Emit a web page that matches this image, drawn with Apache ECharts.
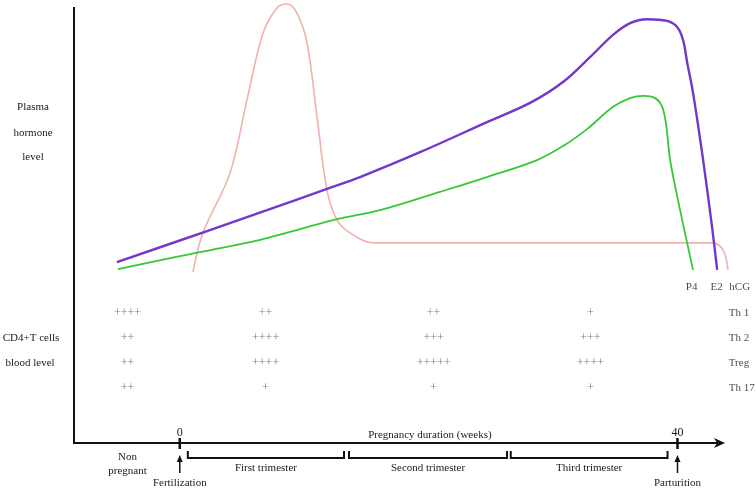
<!DOCTYPE html>
<html>
<head>
<meta charset="utf-8">
<script src="https://cdn.jsdelivr.net/npm/echarts@6/dist/echarts.min.js"></script>
<style>
  html, body { margin: 0; padding: 0; background: #fff; }
  #chart { width: 756px; height: 490px; }
</style>
</head>
<body>
<div id="chart"></div>
<script>
// hormone curves as [week, relative level]
const hcg = [[1.06, 39.2], [1.86, 48.2], [4.04, 61.9], [5.4, 78.7], [6.69, 94.0], [7.81, 99.8], [8.62, 100.7],
  [9.42, 98.6], [10.23, 91.7], [11.03, 74.8], [11.83, 58.0], [12.64, 51.1], [13.68, 48.2], [15.53, 45.9],
  [20.91, 45.9], [30, 45.9], [42.78, 45.9], [43.66, 44.3], [44.06, 39.7]];
const e2 = [[-5.05, 41.5], [2.19, 48.6], [7.01, 53.4], [11.83, 58.3], [14.49, 61.0], [19.31, 66.7], [24.69, 73.6],
  [28.15, 78.0], [30.8, 82.8], [32.97, 88.5], [34.82, 93.6], [36.19, 96.3], [37.56, 97.2], [39.16, 96.8],
  [39.97, 95.4], [40.45, 92.4], [40.77, 87.4], [41.25, 80.3], [42.06, 64.9], [42.78, 49.5], [43.19, 39.7]];
const p4 = [[-4.97, 39.9], [1.62, 43.8], [6.45, 46.6], [12.72, 51.4], [16.09, 53.4], [20.91, 57.6], [24.69, 61.0],
  [28.71, 64.9], [30.8, 68.1], [32.73, 72.0], [34.82, 77.1], [36.19, 79.1], [37.24, 79.6], [38.2, 79.1],
  [38.77, 77.1], [39.09, 72.9], [39.41, 64.9], [40.21, 53.4], [41.25, 39.7]];
const hormoneNames = [['P4', 41.14], ['E2', 43.15], ['hCG', 45.0]];
const hormoneNameLevel = 35.8;

// CD4+ T cell table
const cellTypes = ['Th 1', 'Th 2', 'Treg', 'Th 17'];
const rowLevels = [29.8, 24.1, 18.3, 12.6];
const columnWeeks = [-4.2, 6.9, 20.4, 33.0];
const cellMarks = [
  ['++++', '++', '++', '++'],     // non pregnant
  ['++', '++++', '++++', '+'],    // first trimester
  ['++', '+++', '+++++', '+'],    // second trimester
  ['+', '+++', '++++', '+']       // third trimester
];
const cellTypeWeek = 44.12;

const trimesterNames = ['First trimester', 'Second trimester', 'Third trimester'];
const trimesterSpans = [[0.65, 13.2], [13.6, 26.3], [26.6, 39.2]];
const eventNames = ['Fertilization', 'Parturition'];
const eventWeeks = [0, 40];
const tickWeeks = [0, 40];
// axis frame: [x start, x end (arrow tip), y top]
const axisFrame = [[-8.5, 43.82, 100]];

const FONT = '"Liberation Serif", "DejaVu Serif", serif';
const TXT = '#1a1a1a';

const cells = [];
columnWeeks.forEach((w, c) => {
  rowLevels.forEach((lv, r) => cells.push([w, lv, cellMarks[c][r]]));
});
const rowLabels = cellTypes.map((t, r) => [cellTypeWeek, rowLevels[r], t]);
const hormoneLabels = hormoneNames.map(h => [h[1], hormoneNameLevel, h[0]]);

function caption(text, x, y) {
  return { type: 'text', style: { text: text, x: x, y: y, align: 'center', verticalAlign: 'middle', font: '11px ' + FONT, fill: TXT } };
}

const chart = echarts.init(document.getElementById('chart'));

chart.setOption({
  animation: false,
  backgroundColor: '#fff',
  grid: { left: 74, right: 27, top: 3, bottom: 47 },
  xAxis: {
    type: 'value', min: -8.5, max: 44.14,
    splitLine: { show: false },
    axisLine: { show: false },
    axisTick: { show: false },
    axisLabel: { inside: true, margin: 4, customValues: tickWeeks, color: TXT, fontFamily: FONT, fontSize: 12 }
  },
  yAxis: {
    type: 'value', min: 0, max: 100.92,
    splitLine: { show: false },
    axisLine: { show: false },
    axisTick: { show: false },
    axisLabel: { show: false }
  },
  graphic: [
    caption('Plasma', 33, 107),
    caption('hormone', 33, 133),
    caption('level', 33, 157),
    caption('CD4+T cells', 31, 338),
    caption('blood level', 30, 363)
  ],
  series: [
    {
      name: 'hCG', type: 'line', data: hcg, showSymbol: false, smooth: 0.35,
      lineStyle: { color: '#f2b0ae', width: 1.6 }, z: 2
    },
    {
      name: 'P4', type: 'line', data: p4, showSymbol: false, smooth: 0.35,
      lineStyle: { color: '#36c936', width: 1.8 }, z: 3
    },
    {
      name: 'E2', type: 'line', data: e2, showSymbol: false, smooth: 0.35,
      lineStyle: { color: '#7437cc', width: 2.4 }, z: 4
    },
    {
      type: 'scatter', data: cells, clip: false, symbolSize: 0,
      label: { show: true, position: 'inside', formatter: p => p.value[2], color: '#5c5c5c', fontFamily: FONT, fontSize: 12 }
    },
    {
      type: 'scatter', data: rowLabels, clip: false, symbolSize: 0,
      label: { show: true, position: 'right', distance: 0, formatter: p => p.value[2], color: TXT, fontFamily: FONT, fontSize: 11 }
    },
    {
      type: 'scatter', data: hormoneLabels, clip: false, symbolSize: 0,
      label: { show: true, position: 'inside', formatter: p => p.value[2], color: TXT, fontFamily: FONT, fontSize: 11 }
    },
    {
      // axis frame: vertical level axis and time axis with arrow head
      type: 'custom', data: axisFrame, clip: false,
      renderItem: (params, api) => {
        const a = api.coord([api.value(0), 0]);
        const b = api.coord([api.value(1), 0]);
        const t = api.coord([api.value(0), api.value(2)]);
        const y = a[1];
        return {
          type: 'group', children: [
            { type: 'line', shape: { x1: a[0], y1: t[1], x2: a[0], y2: y + 1 }, style: { stroke: '#111', lineWidth: 2 } },
            { type: 'line', shape: { x1: a[0] - 1, y1: y, x2: b[0] - 6, y2: y }, style: { stroke: '#111', lineWidth: 2 } },
            { type: 'polygon', shape: { points: [[b[0], y], [b[0] - 11, y - 5], [b[0] - 8, y], [b[0] - 11, y + 5]] }, style: { fill: '#111' } }
          ]
        };
      }
    },
    {
      // trimester brackets under the axis
      type: 'custom', data: trimesterSpans, clip: false,
      renderItem: (params, api) => {
        const a = api.coord([api.value(0), 0]);
        const b = api.coord([api.value(1), 0]);
        const y0 = a[1];
        return {
          type: 'group', children: [
            { type: 'polyline', shape: { points: [[a[0], y0 + 8], [a[0], y0 + 15], [b[0], y0 + 15], [b[0], y0 + 8]] },
              style: { stroke: '#111', lineWidth: 2, fill: null } },
            caption(trimesterNames[params.dataIndex], (a[0] + b[0]) / 2, y0 + 25)
          ]
        };
      }
    },
    {
      // fertilization / parturition ticks and arrows
      type: 'custom', data: eventWeeks.map(w => [w, 0]), clip: false,
      renderItem: (params, api) => {
        const p = api.coord([api.value(0), 0]);
        const x = p[0], y0 = p[1];
        return {
          type: 'group', children: [
            { type: 'line', shape: { x1: x, y1: y0 - 5, x2: x, y2: y0 + 6 }, style: { stroke: '#111', lineWidth: 2.5 } },
            { type: 'line', shape: { x1: x, y1: y0 + 15, x2: x, y2: y0 + 30 }, style: { stroke: '#111', lineWidth: 1.5 } },
            { type: 'polygon', shape: { points: [[x, y0 + 12], [x - 3, y0 + 19], [x + 3, y0 + 19]] }, style: { fill: '#111' } },
            caption(eventNames[params.dataIndex], x, y0 + 40)
          ]
        };
      }
    },
    {
      // other axis captions
      type: 'custom', data: [[-4.2, 0], [20.1, 0]], clip: false,
      renderItem: (params, api) => {
        const p = api.coord([api.value(0), 0]);
        if (params.dataIndex === 0) {
          const t = caption('Non\npregnant', p[0], p[1] + 21);
          t.style.lineHeight = 14;
          return t;
        }
        return caption('Pregnancy duration (weeks)', p[0], p[1] - 8);
      }
    }
  ]
});
</script>
</body>
</html>
